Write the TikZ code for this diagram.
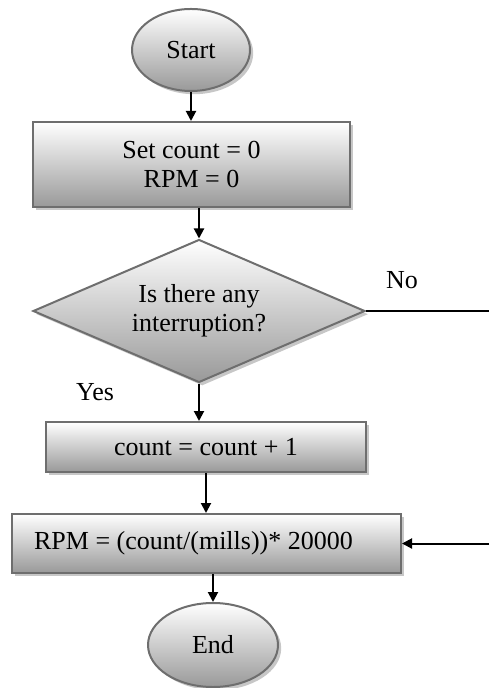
\documentclass[tikz,border=0pt]{standalone}
\usepackage{fontspec}
\setmainfont{Liberation Serif}
\usetikzlibrary{shapes.geometric,arrows.meta,shadows}
\begin{document}
\begin{tikzpicture}[x=0.5pt,y=-0.5pt,
  every node/.style={font=\fontsize{13}{14.5}\selectfont},
  shapebase/.style={draw=black!57, line width=1pt, top color=white, bottom color=black!40,
    drop shadow={shadow xshift=1.6pt, shadow yshift=-1.6pt, fill=black!22, opacity=1},
    inner sep=0pt, align=center},
  box/.style={shapebase, rectangle},
  terminal/.style={shapebase, ellipse},
  decision/.style={shapebase, diamond, shape aspect=2.32},
  conn/.style={line width=1pt, -{Triangle[length=5pt,width=5pt]}},
  plain/.style={line width=1pt},
  lbl/.style={inner sep=0pt}
]
\useasboundingbox (0,0) rectangle (489,688);

\node[terminal, minimum width=59pt, minimum height=41pt] (start) at (191,50) {Start};
\node[box, minimum width=158.5pt, minimum height=42.5pt] (init) at (191.5,164.5) {Set count = 0\\RPM = 0};
\node[decision, minimum width=166pt, minimum height=71.5pt] (dec) at (199,311) {Is there any\\interruption?};
\node[box, minimum width=160pt, minimum height=25pt] (inc) at (206,447) {count = count + 1};
\node[box, minimum width=194.5pt, minimum height=29.5pt] (calc) at (206.5,543.5) {RPM = (count/(mills))* 20000\hspace*{13pt}};
\node[terminal, minimum width=65pt, minimum height=42pt] (end) at (213,645) {End};

\node[lbl] (no) at (402,280) {No};
\node[lbl] (yes) at (95,392) {Yes};

\coordinate (noend) at (489,311);
\coordinate (loopin) at (489,545);

\draw[conn] (start.south) -- (start.south |- init.north);
\draw[conn] (init.south -| dec.north) -- (dec.north);
\draw[conn] (dec.south) -- (dec.south |- inc.north);
\draw[conn] (inc.south) -- (inc.south |- calc.north);
\draw[conn] (calc.south -| end.north) -- (end.north);
\draw[plain] (dec.east) -- (noend);
\draw[conn] (loopin |- calc.east) -- (calc.east);
\end{tikzpicture}
\end{document}
